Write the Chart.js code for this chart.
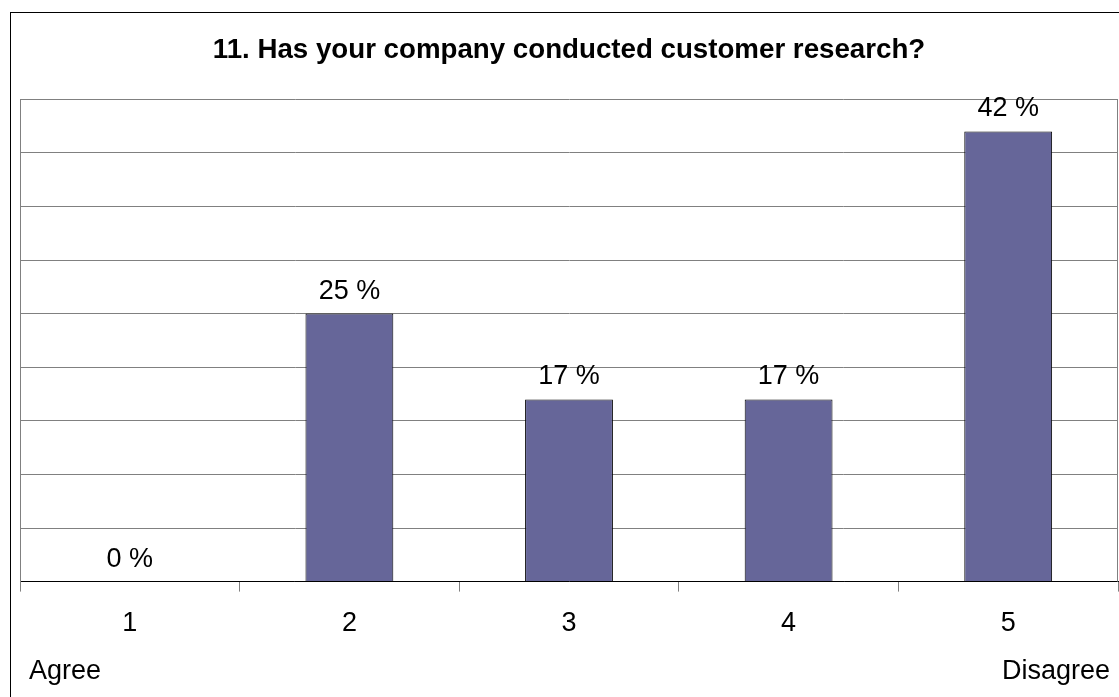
<!DOCTYPE html>
<html>
<head>
<meta charset="utf-8">
<script src="https://cdn.jsdelivr.net/npm/chart.js@4/dist/chart.umd.min.js"></script>
<style>
  html, body { margin: 0; padding: 0; background: #fff; }
  #wrap { width: 1119px; height: 697px; position: relative; }
</style>
</head>
<body>
<div id="wrap"><canvas id="surveyChart" width="1119" height="697"></canvas></div>
<script>
/* ─── Survey data ───────────────────────────────────────── */
const categories = ['1', '2', '3', '4', '5'];
const shares     = [0, 25, 17, 17, 42];          // percent of answers
const scaleLabels = ['Agree', 'Disagree'];
const chartTitle  = '11. Has your company conducted customer research?';

const FONT = '"Liberation Sans", Arial, sans-serif';
const LABEL_SIZE = 27;

/* ─── Frame + plot border ───────────────────────────────── */
const framePlugin = {
  id: 'frame',
  beforeDraw(chart) {
    const { ctx } = chart;
    ctx.save();
    ctx.strokeStyle = '#000';
    ctx.lineWidth = 1;
    ctx.strokeRect(10.5, 12.5, chart.width + 10, chart.height + 10);
    ctx.restore();
  },
  afterDraw(chart) {
    const { ctx, chartArea: a } = chart;
    ctx.save();
    ctx.strokeStyle = '#808080';
    ctx.lineWidth = 1;
    ctx.beginPath();
    ctx.moveTo(Math.round(a.right) - 0.5, a.top);
    ctx.lineTo(Math.round(a.right) - 0.5, a.bottom);
    ctx.stroke();
    ctx.restore();
  }
};

/* ─── Value labels + scale ends ─────────────────────────── */
const labelsPlugin = {
  id: 'valueLabels',
  afterDatasetsDraw(chart) {
    const { ctx } = chart;
    const meta = chart.getDatasetMeta(0);
    ctx.save();
    ctx.fillStyle = '#000';
    ctx.font = LABEL_SIZE + 'px ' + FONT;
    ctx.textAlign = 'center';
    ctx.textBaseline = 'alphabetic';
    meta.data.forEach((bar, i) => {
      ctx.fillText(shares[i] + ' %', bar.x, bar.y - 15);
    });
    ctx.textAlign = 'left';
    ctx.fillText(scaleLabels[0], 29, 679);
    ctx.textAlign = 'right';
    ctx.fillText(scaleLabels[1], 1110, 679);
    ctx.restore();
  }
};

new Chart(document.getElementById('surveyChart'), {
  type: 'bar',
  data: {
    labels: categories,
    datasets: [{
      data: shares,
      backgroundColor: '#666699',
      borderColor: '#000',
      borderWidth: 1,
      categoryPercentage: 1,
      barPercentage: 0.4
    }]
  },
  options: {
    responsive: false,
    animation: false,
    layout: { padding: { top: 12, left: 20, right: 1, bottom: 41 } },
    plugins: {
      legend: { display: false },
      tooltip: { enabled: false },
      title: {
        display: true,
        text: chartTitle,
        color: '#000',
        font: { family: FONT, size: 27.7, weight: 'bold' },
        padding: { top: 22, bottom: 32 }
      }
    },
    scales: {
      x: {
        offset: true,
        grid: {
          offset: true,
          drawOnChartArea: false,
          tickLength: 10,
          color: '#808080'
        },
        border: { color: '#000', width: 1 },
        ticks: {
          color: '#000',
          padding: 16,
          font: { family: FONT, size: LABEL_SIZE }
        }
      },
      y: {
        min: 0,
        max: 45,
        ticks: { display: false, stepSize: 5 },
        grid: { color: '#808080', drawTicks: false },
        border: { color: '#808080' }
      }
    }
  },
  plugins: [framePlugin, labelsPlugin]
});
</script>
</body>
</html>
